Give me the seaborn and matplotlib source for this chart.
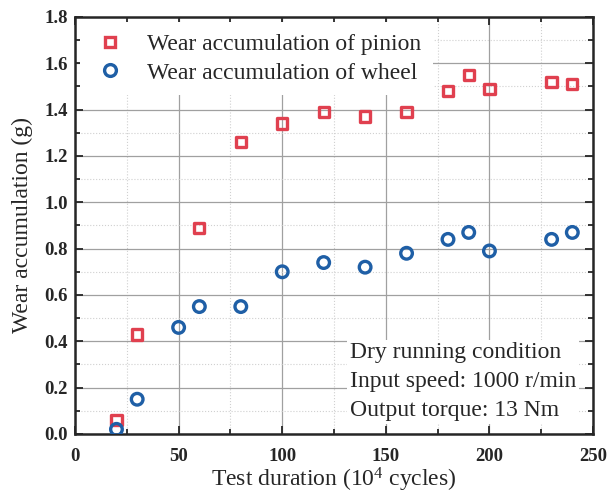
import matplotlib
matplotlib.use("Agg")
import matplotlib.pyplot as plt
import pandas as pd
import seaborn as sns
from matplotlib.lines import Line2D
from matplotlib.ticker import MultipleLocator

# data
pinion_x = [20, 30, 60, 80, 100, 120, 140, 160, 180, 190, 200, 230, 240]
pinion_y = [0.06, 0.43, 0.89, 1.26, 1.34, 1.39, 1.37, 1.39, 1.48, 1.55, 1.49, 1.52, 1.51]
wheel_x = [20, 30, 50, 60, 80, 100, 120, 140, 160, 180, 190, 200, 230, 240]
wheel_y = [0.02, 0.15, 0.46, 0.55, 0.55, 0.70, 0.74, 0.72, 0.78, 0.84, 0.87, 0.79, 0.84, 0.87]

labels = ["Wear accumulation of pinion", "Wear accumulation of wheel"]
red = "#e0404f"
blue = "#1f5fa6"

df_p = pd.DataFrame({"cycles": pinion_x, "wear": pinion_y})
df_w = pd.DataFrame({"cycles": wheel_x, "wear": wheel_y})

sns.set_style("ticks")
plt.rcParams["font.family"] = ["Liberation Serif", "DejaVu Serif"]
plt.rcParams["mathtext.fontset"] = "stix"

fig = plt.figure(figsize=(6.07, 4.94), dpi=100)
ax = fig.add_axes([0.1236, 0.1215, 0.8534, 0.8441])

# grid
ax.xaxis.set_major_locator(MultipleLocator(50))
ax.xaxis.set_minor_locator(MultipleLocator(25))
ax.yaxis.set_major_locator(MultipleLocator(0.2))
ax.yaxis.set_minor_locator(MultipleLocator(0.1))
ax.grid(which="major", color="#a0a0a0", linewidth=0.9, linestyle="-")
ax.grid(which="minor", color="#d0d0d0", linewidth=0.8, linestyle=":")
ax.set_axisbelow(True)

sns.scatterplot(data=df_p, x="cycles", y="wear", marker="s", s=55,
                color=red, linewidth=2.4, ax=ax, zorder=3)
sns.scatterplot(data=df_w, x="cycles", y="wear", marker="o", s=70,
                color=blue, linewidth=2.4, ax=ax, zorder=3)
for coll, col in zip(ax.collections, [red, blue]):
    coll.set_facecolor("none")
    coll.set_edgecolor(col)

ax.set_xlim(0, 250)
ax.set_ylim(0, 1.8)
ax.set_xlabel("Test duration ($\\mathregular{10^4}$ cycles)", fontsize=17, labelpad=1)
ax.set_ylabel("Wear accumulation (g)", fontsize=17, labelpad=8)

ax.tick_params(which="both", direction="in", top=True, right=True, width=1.3)
ax.tick_params(which="major", length=6, labelsize=13.5)
ax.tick_params(which="minor", length=3.5)
ax.tick_params(axis="x", which="major", pad=10)
ax.tick_params(axis="y", which="major", pad=5)
for lab in ax.get_xticklabels() + ax.get_yticklabels():
    lab.set_fontweight("bold")
for sp in ax.spines.values():
    sp.set_linewidth(1.8)

# legend with proxy handles
handles = [
    Line2D([], [], marker="s", linestyle="none", markerfacecolor="none",
           markeredgecolor=red, markeredgewidth=2.4, markersize=7.5),
    Line2D([], [], marker="o", linestyle="none", markerfacecolor="none",
           markeredgecolor=blue, markeredgewidth=2.4, markersize=8.5),
]
leg = ax.legend(handles, labels, loc="upper left", frameon=True, fontsize=17,
                handletextpad=0.75, handlelength=1.6, borderaxespad=0.2,
                labelspacing=0.3, borderpad=0.5, fancybox=False, framealpha=1)
leg.get_frame().set_edgecolor("white")
leg.get_frame().set_linewidth(0)

ax.text(0.531, 0.030,
        "Dry running condition\nInput speed: 1000 r/min\nOutput torque: 13 Nm",
        transform=ax.transAxes, ha="left", va="bottom", fontsize=17,
        linespacing=1.5, zorder=4,
        bbox=dict(facecolor="white", edgecolor="none", pad=2))

fig.savefig("out.png", dpi=100)
